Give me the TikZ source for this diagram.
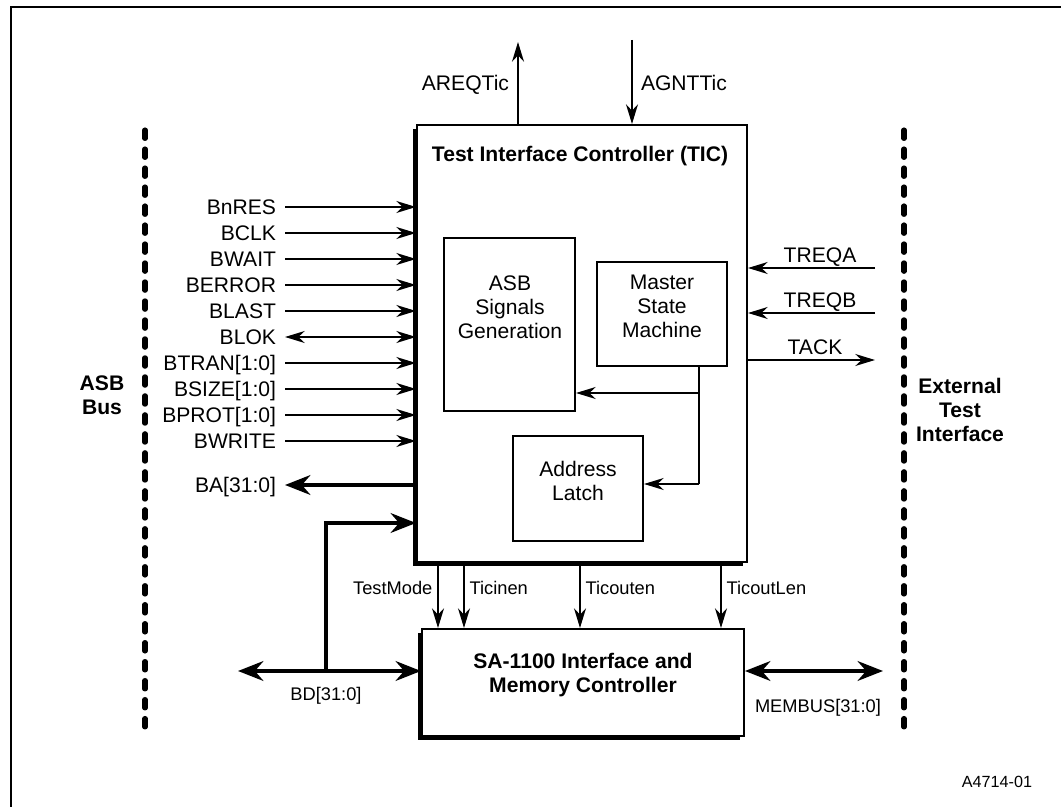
\documentclass[tikz,border=0pt]{standalone}
\usepackage{fontspec}
\setmainfont{Liberation Sans}
\usetikzlibrary{arrows.meta,positioning,fit,shadows}

\begin{document}
\begin{tikzpicture}[x=0.025cm, y=-0.025cm,
  font=\fontsize{15}{17}\selectfont,
  blk/.style={draw, line width=1.4pt, fill=white, inner sep=0pt, align=center},
  shblk/.style={blk, drop shadow={shadow xshift=-0.1cm, shadow yshift=-0.1cm,
                fill=black, opacity=1}},
  ttl/.style={font=\fontsize{15}{17}\selectfont\bfseries, align=center},
  lab/.style={inner sep=0pt, outer sep=6.4pt, text height=10.7pt, text depth=0pt},
  sml/.style={lab, outer sep=4pt, font=\fontsize{13}{15}\selectfont, text height=9.3pt},
  sigtip/.tip={Stealth[length=14pt, width=8.5pt, inset=4.5pt]},
  bustip/.tip={Stealth[length=18pt, width=14pt, inset=6pt]},
  sig/.style={-{sigtip}, line width=1.4pt},
  bisig/.style={{sigtip}-{sigtip}, line width=1.4pt},
  bus/.style={-{bustip}, line width=3.2pt},
  bibus/.style={{bustip}-{bustip}, line width=3.2pt},
  rail/.style={line width=3.6pt, dash pattern=on 6pt off 7.5pt, line cap=round}]

\useasboundingbox (0,0) rectangle (1061,807);

% frame
\draw[line width=1.4pt] (11,807) -- (11,7) -- (1061,7);

% bus rails on both sides
\draw[rail] (145,130) -- (145,733);
\draw[rail] (904,130) -- (904,733);
\node[ttl] (asbbus) at (102,395) {ASB\\Bus};
\node[ttl] (exttest) at (960,410) {External\\Test\\Interface};

% the TIC block and its parts
\node[shblk, fit={(417,125) (747,562)}] (tic) {};
\node[ttl] (tictitle) at (580,156) {Test Interface Controller (TIC)};
\node[blk, fit={(444,238) (575,411)}] (asb) {};
\node[align=center] (asbtxt) at (510,307) {ASB\\Signals\\Generation};
\node[blk, fit={(597,262) (727,366)}] (msm) {Master\\State\\Machine};
\node[blk, fit={(513,436) (643,541)}] (latch) {Address\\Latch};

\coordinate (tap) at (699,393);
\coordinate (elbow) at (699,484);
\draw[line width=1.4pt] (msm.south -| tap) -- (elbow);
\draw[sig] (tap) -- (tap -| asb.east);
\draw[sig] (elbow) -- (elbow -| latch.east);

% memory controller
\node[shblk, fit={(422,629) (744,736)}, font=\fontsize{15}{17}\selectfont\bfseries]
  (sa) {SA-1100 Interface and\\Memory Controller};

% arbiter handshake
\coordinate (areqend) at (518,42);
\coordinate (agntstart) at (632,40);
\draw[sig] (areqend |- tic.north) -- (areqend);
\draw[sig] (agntstart) -- (agntstart |- tic.north);
\node[lab, anchor=east] (areq) at (518,83) {AREQTic};
\node[lab, anchor=west] (agnt) at (632,83) {AGNTTic};

% ASB inputs
\foreach \txt/\kind [count=\i from 0] in {BnRES/sig, BCLK/sig, BWAIT/sig,
    BERROR/sig, BLAST/sig, BLOK/bisig, BTRAN[1:0]/sig, BSIZE[1:0]/sig,
    BPROT[1:0]/sig, BWRITE/sig}{
  \node[lab, anchor=east] (asbin\i) at (285,207+26*\i) {\txt};
  \draw[\kind] (asbin\i.east) -- (asbin\i.east -| tic.west);
}

% address and data buses
\node[lab, anchor=east] (ba) at (285,485) {BA[31:0]};
\draw[bus] (ba.east -| tic.west) -- (ba.east);
\coordinate (bdleft) at (238,671);
\coordinate (bdtap) at (326,671);
\coordinate (bdup) at (326,523);
\draw[bibus] (bdleft) -- (bdleft -| sa.west);
\draw[bus] (bdtap) -- (bdup) -- (bdup -| tic.west);
\node[sml] (bd) at (326,694) {BD[31:0]};
\coordinate (memend) at (883,671);
\draw[bibus] (memend -| sa.east) -- (memend);
\node[sml] (membus) at (818,706) {MEMBUS[31:0]};

% external test interface
\coordinate (treqaend) at (875,268);
\coordinate (treqbend) at (875,313);
\coordinate (tackend) at (875,360);
\draw[sig] (treqaend) -- (treqaend -| tic.east);
\draw[sig] (treqbend) -- (treqbend -| tic.east);
\draw[sig] (tackend -| tic.east) -- (tackend);
\node[lab] (treqa) at (820,255) {TREQA};
\node[lab] (treqb) at (820,300) {TREQB};
\node[lab] (tack) at (815,347) {TACK};

% control lines to the memory controller
\node[sml, anchor=east] (tmode) at (438,588) {TestMode};
\node[sml, anchor=west] (ticin) at (464,588) {Ticinen};
\node[sml, anchor=west] (ticout) at (580,588) {Ticouten};
\node[sml, anchor=west] (ticoutl) at (721,588) {TicoutLen};
\draw[sig] (tmode.east |- tic.south) -- (tmode.east |- sa.north);
\foreach \c in {ticin, ticout, ticoutl}
  \draw[sig] (\c.west |- tic.south) -- (\c.west |- sa.north);

\node[font=\fontsize{11.5}{13}\selectfont] (figid) at (997,782) {A4714-01};
\end{tikzpicture}
\end{document}
